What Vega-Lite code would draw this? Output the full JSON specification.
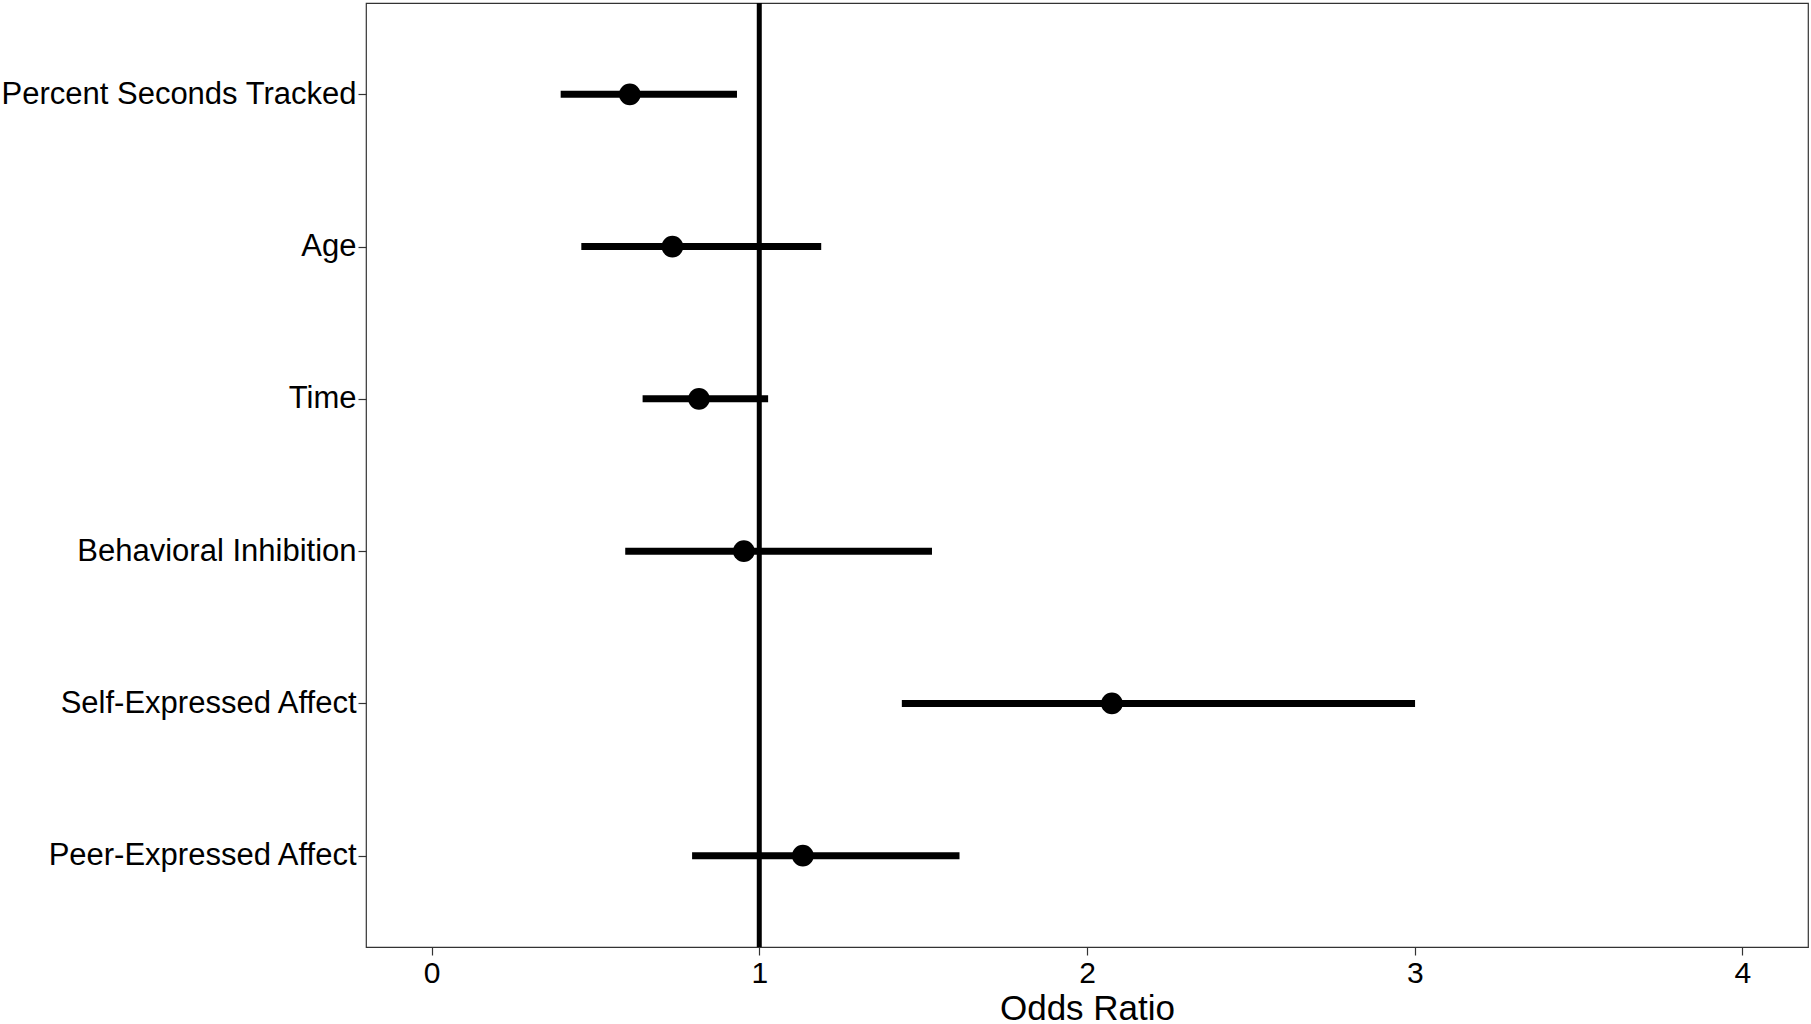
{
  "$schema": "https://vega.github.io/schema/vega-lite/v6.json",
  "width": 1442,
  "height": 944,
  "padding": {"left": 0, "top": 0, "right": 1, "bottom": 0},
  "background": "white",
  "config": {
    "font": "Liberation Sans",
    "view": {"stroke": "#333333", "strokeWidth": 1.2}
  },
  "data": {
    "values": [
      {"term": "Percent Seconds Tracked", "or": 0.605, "lo": 0.394, "hi": 0.932},
      {"term": "Age", "or": 0.735, "lo": 0.457, "hi": 1.189},
      {"term": "Time", "or": 0.816, "lo": 0.644, "hi": 1.027},
      {"term": "Behavioral Inhibition", "or": 0.953, "lo": 0.591, "hi": 1.527},
      {"term": "Self-Expressed Affect", "or": 2.076, "lo": 1.435, "hi": 3.001},
      {"term": "Peer-Expressed Affect", "or": 1.133, "lo": 0.795, "hi": 1.611}
    ]
  },
  "encoding": {
    "y": {
      "field": "term",
      "type": "nominal",
      "sort": ["Percent Seconds Tracked", "Age", "Time", "Behavioral Inhibition", "Self-Expressed Affect", "Peer-Expressed Affect"],
      "scale": {"type": "point", "padding": 0.6},
      "axis": {
        "title": null,
        "domain": false,
        "grid": false,
        "labelFontSize": 31,
        "labelLimit": 0,
        "labelColor": "#000000",
        "labelPadding": 2,
        "tickSize": 8,
        "tickColor": "#333333",
        "tickWidth": 1.2
      }
    }
  },
  "layer": [
    {
      "mark": {"type": "rule", "strokeWidth": 7, "color": "black"},
      "encoding": {
        "x": {
          "field": "lo",
          "type": "quantitative",
          "scale": {"domain": [-0.2, 4.2], "nice": false, "zero": false},
          "axis": {
            "title": "Odds Ratio",
            "values": [0, 1, 2, 3, 4],
            "format": "d",
            "domain": false,
            "grid": false,
            "labelFontSize": 30,
            "labelColor": "#000000",
            "labelPadding": 3,
            "tickSize": 8,
            "tickColor": "#333333",
            "tickWidth": 1.2,
            "titleFontSize": 35,
            "titleFontWeight": "normal",
            "titleColor": "#000000",
            "titleBaseline": "alphabetic",
            "titleY": 72
          }
        },
        "x2": {"field": "hi"}
      }
    },
    {
      "mark": {"type": "point", "filled": true, "color": "black", "opacity": 1, "size": 470},
      "encoding": {"x": {"field": "or", "type": "quantitative"}}
    },
    {
      "data": {"values": [{"ref": 1}]},
      "mark": {"type": "rule", "strokeWidth": 5, "color": "black"},
      "encoding": {"x": {"field": "ref", "type": "quantitative"}, "y": null}
    }
  ]
}
